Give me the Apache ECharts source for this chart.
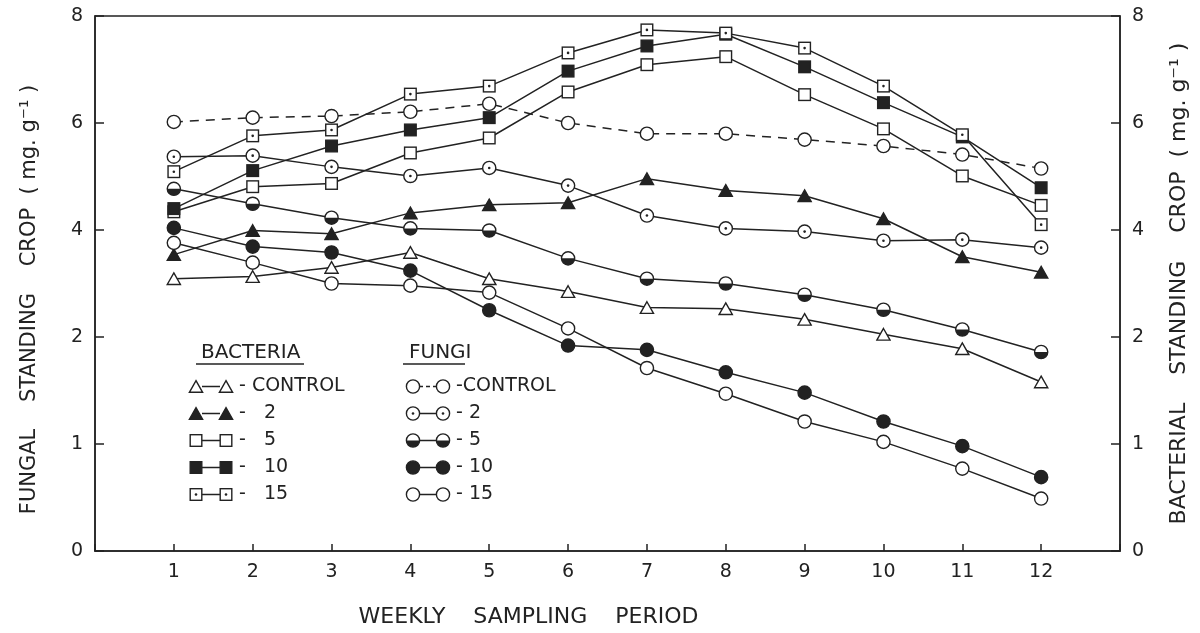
<!DOCTYPE html>
<html>
<head>
<meta charset="utf-8">
<script src="https://cdn.jsdelivr.net/npm/echarts@6/dist/echarts.min.js"></script>
<style>
  html, body { margin: 0; padding: 0; background: #fff; }
  #chart { width: 1200px; height: 633px; }
</style>
</head>
<body>
<div id="chart"></div>
<script>
// weekly sampling period
var weeks = [1, 2, 3, 4, 5, 6, 7, 8, 9, 10, 11, 12];
// y ticks are evenly spaced but labelled 0,1,2,4,6,8
var yTickLabels = ["0", "1", "2", "4", "6", "8"];

// bacterial standing crop (mg g-1)
var bacteriaControl = [3.09, 3.13, 3.30, 3.58, 3.09, 2.85, 2.55, 2.53, 2.33, 2.05, 1.89, 1.58];
var bacteria2 = [3.54, 3.99, 3.93, 4.32, 4.47, 4.51, 4.96, 4.74, 4.64, 4.21, 3.50, 3.21];
var bacteria5 = [4.34, 4.81, 4.87, 5.44, 5.72, 6.58, 7.09, 7.24, 6.53, 5.89, 5.01, 4.46];
var bacteria10 = [4.40, 5.11, 5.57, 5.87, 6.10, 6.97, 7.44, 7.66, 7.05, 6.38, 5.74, 4.79];
var bacteria15 = [5.09, 5.76, 5.87, 6.54, 6.69, 7.31, 7.74, 7.68, 7.40, 6.69, 5.78, 4.10];

// fungal standing crop (mg g-1)
var fungiControl = [6.02, 6.10, 6.13, 6.21, 6.36, 6.00, 5.80, 5.80, 5.69, 5.57, 5.41, 5.15];
var fungi2 = [5.37, 5.39, 5.18, 5.01, 5.16, 4.83, 4.27, 4.03, 3.97, 3.80, 3.82, 3.67];
var fungi5 = [4.77, 4.49, 4.23, 4.03, 3.99, 3.47, 3.09, 3.00, 2.79, 2.51, 2.14, 1.86];
var fungi10 = [4.04, 3.69, 3.58, 3.24, 2.50, 1.92, 1.88, 1.67, 1.48, 1.21, 0.98, 0.69];
var fungi15 = [3.76, 3.39, 3.00, 2.96, 2.83, 2.16, 1.71, 1.47, 1.21, 1.02, 0.77, 0.49];

var INK = "#222";
var FONT = "DejaVu Sans";

// axis position of a value: 0-2 linear, then 2 units per tick
function toAxis(v) {
  return v <= 2 ? v : 1 + v / 2;
}

function pairs(arr) {
  return weeks.map(function (w, i) { return [w, toAxis(arr[i])]; });
}

// marker shapes drawn in a 16x16 box
function shape(kind) {
  var s = 'stroke="' + INK + '" stroke-width="1.4"';
  switch (kind) {
    case "triOpen": return '<polygon points="8,2.2 14.6,13.8 1.4,13.8" fill="#fff" ' + s + '/>';
    case "triFill": return '<polygon points="8,2.2 14.6,13.8 1.4,13.8" fill="' + INK + '" ' + s + '/>';
    case "sqOpen": return '<rect x="2.2" y="2.2" width="11.6" height="11.6" fill="#fff" ' + s + '/>';
    case "sqFill": return '<rect x="2.2" y="2.2" width="11.6" height="11.6" fill="' + INK + '" ' + s + '/>';
    case "sqDot": return '<rect x="2.2" y="2.2" width="11.6" height="11.6" fill="#fff" ' + s + '/><circle cx="8" cy="8" r="1.3" fill="' + INK + '"/>';
    case "cirOpen": return '<circle cx="8" cy="8" r="6.6" fill="#fff" ' + s + '/>';
    case "cirDot": return '<circle cx="8" cy="8" r="6.6" fill="#fff" ' + s + '/><circle cx="8" cy="8" r="1.3" fill="' + INK + '"/>';
    case "cirHalf": return '<circle cx="8" cy="8" r="6.6" fill="#fff" ' + s + '/><path d="M1.4,8 A6.6,6.6 0 0 0 14.6,8 Z" fill="' + INK + '"/>';
    case "cirFill": return '<circle cx="8" cy="8" r="6.6" fill="' + INK + '" ' + s + '/>';
  }
}

function svgImage(body, w, h) {
  var svg = '<svg xmlns="http://www.w3.org/2000/svg" width="' + w + '" height="' + h +
    '" viewBox="0 0 ' + w + ' ' + h + '">' + body + '</svg>';
  return "image://data:image/svg+xml;charset=utf-8," + encodeURIComponent(svg);
}

function symbolOf(kind) {
  return svgImage(shape(kind), 16, 16);
}

// legend key: marker - line - marker
function keyOf(kind, dashed) {
  var line = '<line x1="14" y1="8" x2="32" y2="8" stroke="' + INK + '" stroke-width="1.5"' +
    (dashed ? ' stroke-dasharray="4,3"' : '') + '/>';
  return svgImage(line + '<g>' + shape(kind) + '</g><g transform="translate(30,0)">' + shape(kind) + '</g>', 46, 16);
}

var seriesDefs = [
  { name: "Bacteria control", data: bacteriaControl, kind: "triOpen", label: "- CONTROL" },
  { name: "Bacteria 2", data: bacteria2, kind: "triFill", label: "-   2" },
  { name: "Bacteria 5", data: bacteria5, kind: "sqOpen", label: "-   5" },
  { name: "Bacteria 10", data: bacteria10, kind: "sqFill", label: "-   10" },
  { name: "Bacteria 15", data: bacteria15, kind: "sqDot", label: "-   15" },
  { name: "Fungi control", data: fungiControl, kind: "cirOpen", label: "-CONTROL", dashed: true },
  { name: "Fungi 2", data: fungi2, kind: "cirDot", label: "- 2" },
  { name: "Fungi 5", data: fungi5, kind: "cirHalf", label: "- 5" },
  { name: "Fungi 10", data: fungi10, kind: "cirFill", label: "- 10" },
  { name: "Fungi 15", data: fungi15, kind: "cirOpen", label: "- 15" }
];

var labelOf = {};
seriesDefs.forEach(function (d) { labelOf[d.name] = d.label; });

function legendFor(names, left) {
  return {
    orient: "vertical",
    left: left,
    top: 372,
    itemWidth: 46,
    itemHeight: 16,
    itemGap: 8,
    selectedMode: false,
    textStyle: { fontFamily: FONT, fontSize: 19, color: INK },
    formatter: function (n) { return labelOf[n]; },
    data: names.map(function (n) {
      var d = seriesDefs.filter(function (s) { return s.name === n; })[0];
      return { name: n, icon: keyOf(d.kind, d.dashed) };
    })
  };
}

var yAxisBase = {
  type: "value",
  min: 0,
  max: 5,
  interval: 1,
  nameLocation: "middle",
  nameRotate: 90,
  axisLine: { show: true, lineStyle: { color: INK, width: 1.5 } },
  axisTick: { show: true, inside: true, length: 9, lineStyle: { color: INK, width: 1.5 } },
  axisLabel: {
    margin: 12,
    fontFamily: FONT,
    fontSize: 19,
    color: INK,
    formatter: function (v) { return yTickLabels[v]; }
  },
  splitLine: { show: false }
};

var chart = echarts.init(document.getElementById("chart"));
chart.setOption({
  animation: false,
  backgroundColor: "#fff",
  grid: {
    left: 95, right: 80, top: 16, bottom: 81,
    show: true, borderColor: INK, borderWidth: 1.5
  },
  title: [
    { text: "BACTERIA", left: 196, top: 338, textStyle: { fontFamily: FONT, fontSize: 20, fontWeight: "normal", color: INK } },
    { text: "FUNGI", left: 404, top: 338, textStyle: { fontFamily: FONT, fontSize: 20, fontWeight: "normal", color: INK } }
  ],
  graphic: [
    { type: "line", shape: { x1: 196, y1: 364, x2: 304, y2: 364 }, style: { stroke: INK, lineWidth: 1.5 } },
    { type: "line", shape: { x1: 403, y1: 364, x2: 465, y2: 364 }, style: { stroke: INK, lineWidth: 1.5 } }
  ],
  legend: [
    legendFor(seriesDefs.slice(0, 5).map(function (d) { return d.name; }), 183),
    legendFor(seriesDefs.slice(5).map(function (d) { return d.name; }), 400)
  ],
  xAxis: {
    type: "value",
    min: 0,
    max: 13,
    interval: 1,
    name: "WEEKLY    SAMPLING    PERIOD",
    nameLocation: "middle",
    nameGap: 55,
    nameTextStyle: { fontFamily: FONT, fontSize: 22, color: INK, padding: [0, 158, 0, 0] },
    axisLine: { show: true, lineStyle: { color: INK, width: 1.5 } },
    axisTick: { show: true, inside: true, length: 7, lineStyle: { color: INK, width: 1.5 } },
    axisLabel: {
      margin: 12,
      fontFamily: FONT,
      fontSize: 19,
      color: INK,
      formatter: function (v) { return v >= 1 && v <= 12 ? String(v) : ""; }
    },
    splitLine: { show: false }
  },
  yAxis: [
    Object.assign({}, yAxisBase, {
      position: "left",
      name: "FUNGAL    STANDING    CROP  ( mg. g\u207B\u00B9 )",
      nameGap: 55,
      nameTextStyle: { fontFamily: FONT, fontSize: 21, color: INK, padding: [0, 32, 0, 0] }
    }),
    Object.assign({}, yAxisBase, {
      position: "right",
      name: "BACTERIAL    STANDING    CROP  ( mg. g\u207B\u00B9 )",
      nameGap: 48,
      nameTextStyle: { fontFamily: FONT, fontSize: 22, color: INK }
    })
  ],
  series: seriesDefs.map(function (d) {
    return {
      name: d.name,
      type: "line",
      yAxisIndex: 0,
      data: pairs(d.data),
      symbol: symbolOf(d.kind),
      symbolSize: 16,
      showSymbol: true,
      itemStyle: { color: INK },
      lineStyle: { color: INK, width: 1.5, type: d.dashed ? [9, 7] : "solid" },
      emphasis: { disabled: true }
    };
  })
});
</script>
</body>
</html>
